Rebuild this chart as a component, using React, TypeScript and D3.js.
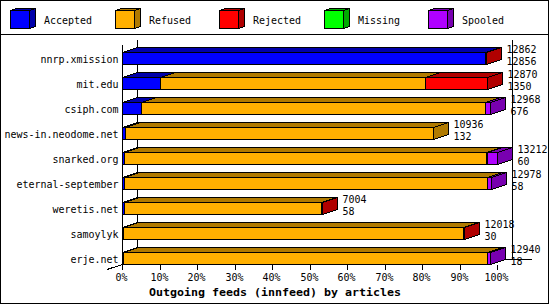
import React from "react";
import * as d3 from "d3";

// ---- data (percent of offered, read against the front-plane axis) ----
const hosts = [
  "nnrp.xmission",
  "mit.edu",
  "csiph.com",
  "news-in.neodome.net",
  "snarked.org",
  "eternal-september",
  "weretis.net",
  "samoylyk",
  "erje.net",
];
const acceptedPct = [96.9, 10.05, 5.0, 0.7, 0.4, 0.4, 0.4, 0.2, 0.2];
const refusedPct = [0, 70.7, 91.7, 82.2, 96.6, 96.9, 52.6, 90.8, 97.0];
const rejectedPct = [0.2, 16.7, 0, 0, 0.4, 0, 0.2, 0.2, 0];
const missingPct = [0, 0, 0, 0, 0, 0, 0, 0, 0];
const spooledPct = [0, 0, 1.5, 0, 2.6, 1.2, 0, 0, 1.0];
const offeredCounts = [12862, 12870, 12968, 10936, 13212, 12978, 7004, 12018, 12940];
const acceptedCounts = [12856, 1350, 676, 132, 60, 58, 58, 30, 18];
const seriesNames = ["Accepted", "Refused", "Rejected", "Missing", "Spooled"];
const seriesFront = ["#0000ff", "#ffb000", "#ff0000", "#00ff00", "#b000ff"];
const seriesDark = ["#0000aa", "#b07a00", "#b00000", "#00aa00", "#7800b0"];
const tickValues = [0, 10, 20, 30, 40, 50, 60, 70, 80, 90, 100];
const title = "Outgoing feeds (innfeed) by articles";

const W = 550;
const H = 305;
const DX = 15;
const DY = 5;
const BAR_H = 12;
const FONT = "'DejaVu Sans Mono', monospace";

const px = (v: number) => Math.round(v - 0.5) + 0.5;

export default function App() {
  const series = [acceptedPct, refusedPct, rejectedPct, missingPct, spooledPct];
  const x = d3.scaleLinear().domain([0, 100]).range([122.5, 497.5]);
  const y = d3
    .scaleBand<string>()
    .domain(hosts)
    .range([52.5, 52.5 + 25 * hosts.length])
    .paddingInner(0);

  const stackData = hosts.map((h, i) => {
    const row: any = { host: h };
    seriesNames.forEach((s, k) => (row[s] = series[k][i]));
    return row;
  });
  const stacked = d3.stack<any>().keys(seriesNames)(stackData);

  const floorY = y.range()[1] - 25 + BAR_H - DY; // 259.5
  const topBack = 39.5;
  const x0 = x(0);
  const x100 = x(100);

  const txt = (
    s: string,
    tx: number,
    ty: number,
    anchor: string = "start",
    bold = false,
    key?: string
  ) => (
    <text
      key={key}
      x={tx}
      y={ty}
      textAnchor={anchor}
      fontFamily={FONT}
      fontSize={11}
      fontWeight={bold ? "bold" : "normal"}
      textLength={s.length * (bold ? 7 : 6)}
      lengthAdjust="spacingAndGlyphs"
      fill="#000"
    >
      {s}
    </text>
  );

  const bars: React.ReactNode[] = [];
  const labels: React.ReactNode[] = [];
  hosts.forEach((h, i) => {
    const yt = y(h)!;
    const yb = yt + BAR_H;
    let end = x0;
    seriesNames.forEach((s, k) => {
      const seg = stacked[k][i];
      if (seg[1] - seg[0] <= 0) return;
      const xa = px(x(seg[0]));
      const xb = Math.max(xa, px(x(seg[1])));
      end = xb;
      const top = [
        [xa, yt],
        [xa + DX, yt - DY],
        [xb + DX, yt - DY],
        [xb, yt],
      ];
      const side = [
        [xb, yt],
        [xb + DX, yt - DY],
        [xb + DX, yb - DY],
        [xb, yb],
      ];
      bars.push(
        <g key={`${h}-${s}`} stroke="#000" strokeWidth={1} shapeRendering="crispEdges">
          <rect x={xa} y={yt} width={xb - xa} height={BAR_H} fill={seriesFront[k]} />
          <polygon points={top.map((p) => p.join(",")).join(" ")} fill={seriesDark[k]} />
          <polygon points={side.map((p) => p.join(",")).join(" ")} fill={seriesDark[k]} />
        </g>
      );
    });
    labels.push(txt(h, 118.5, yt + 10.5, "end", false, `l-${h}`));
    labels.push(txt(String(offeredCounts[i]), end + 20, yt + 0.5, "start", false, `o-${h}`));
    labels.push(txt(String(acceptedCounts[i]), end + 20, yt + 12, "start", false, `a-${h}`));
  });

  return (
    <svg
      width={W}
      height={H}
      style={{ position: "absolute", left: 0, top: 0, background: "#fff" }}
    >
      <rect x={0} y={0} width={W} height={H} fill="#fff" />
      <rect x={0.5} y={0.5} width={548} height={303} fill="none" stroke="#000" />
      <line x1={0} x2={549} y1={34.5} y2={34.5} stroke="#000" shapeRendering="crispEdges" />

      {/* legend */}
      {seriesNames.map((s, k) => {
        const bx = Math.round(10 + k * 104.5) + 0.5;
        const t = 10.5;
        const b = 28.5;
        const r = bx + 19;
        return (
          <g key={s}>
            <g stroke="#000" shapeRendering="crispEdges">
              <rect x={bx} y={t} width={19} height={b - t} fill={seriesFront[k]} />
              <polygon
                points={`${bx},${t} ${bx + 6},${t - 2} ${r + 6},${t - 2} ${r},${t}`}
                fill={seriesDark[k]}
              />
              <polygon
                points={`${r},${t} ${r + 6},${t - 2} ${r + 6},${b - 2} ${r},${b}`}
                fill={seriesDark[k]}
              />
            </g>
            {txt(s, bx + 33.5, 24)}
          </g>
        );
      })}

      {/* back plane lines */}
      <g stroke="#000" shapeRendering="crispEdges">
        <line x1={x0 + DX} x2={x0 + DX} y1={topBack} y2={floorY} />
        <line x1={x100 + DX} x2={x100 + DX} y1={topBack} y2={floorY} />
        <line x1={x0 + DX} x2={532} y1={floorY} y2={floorY} />
        <line x1={x0 + DX} y1={floorY} x2={x0 + DX - 30.5} y2={floorY + 10} />
      </g>

      {bars}

      {/* front axis + ticks */}
      <g stroke="#000" shapeRendering="crispEdges">
        <line x1={x0} x2={x0} y1={topBack + DY} y2={floorY + DY} />
        {tickValues.map((t) => (
          <line key={t} x1={px(x(t))} x2={px(x(t))} y1={floorY + DY} y2={floorY + DY + 5} />
        ))}
      </g>
      {tickValues.map((t) => txt(`${t}%`, px(x(t)) - 1, 281, "middle", false, `t-${t}`))}

      {labels}

      {txt(title, 275, 295.5, "middle", true)}
    </svg>
  );
}
